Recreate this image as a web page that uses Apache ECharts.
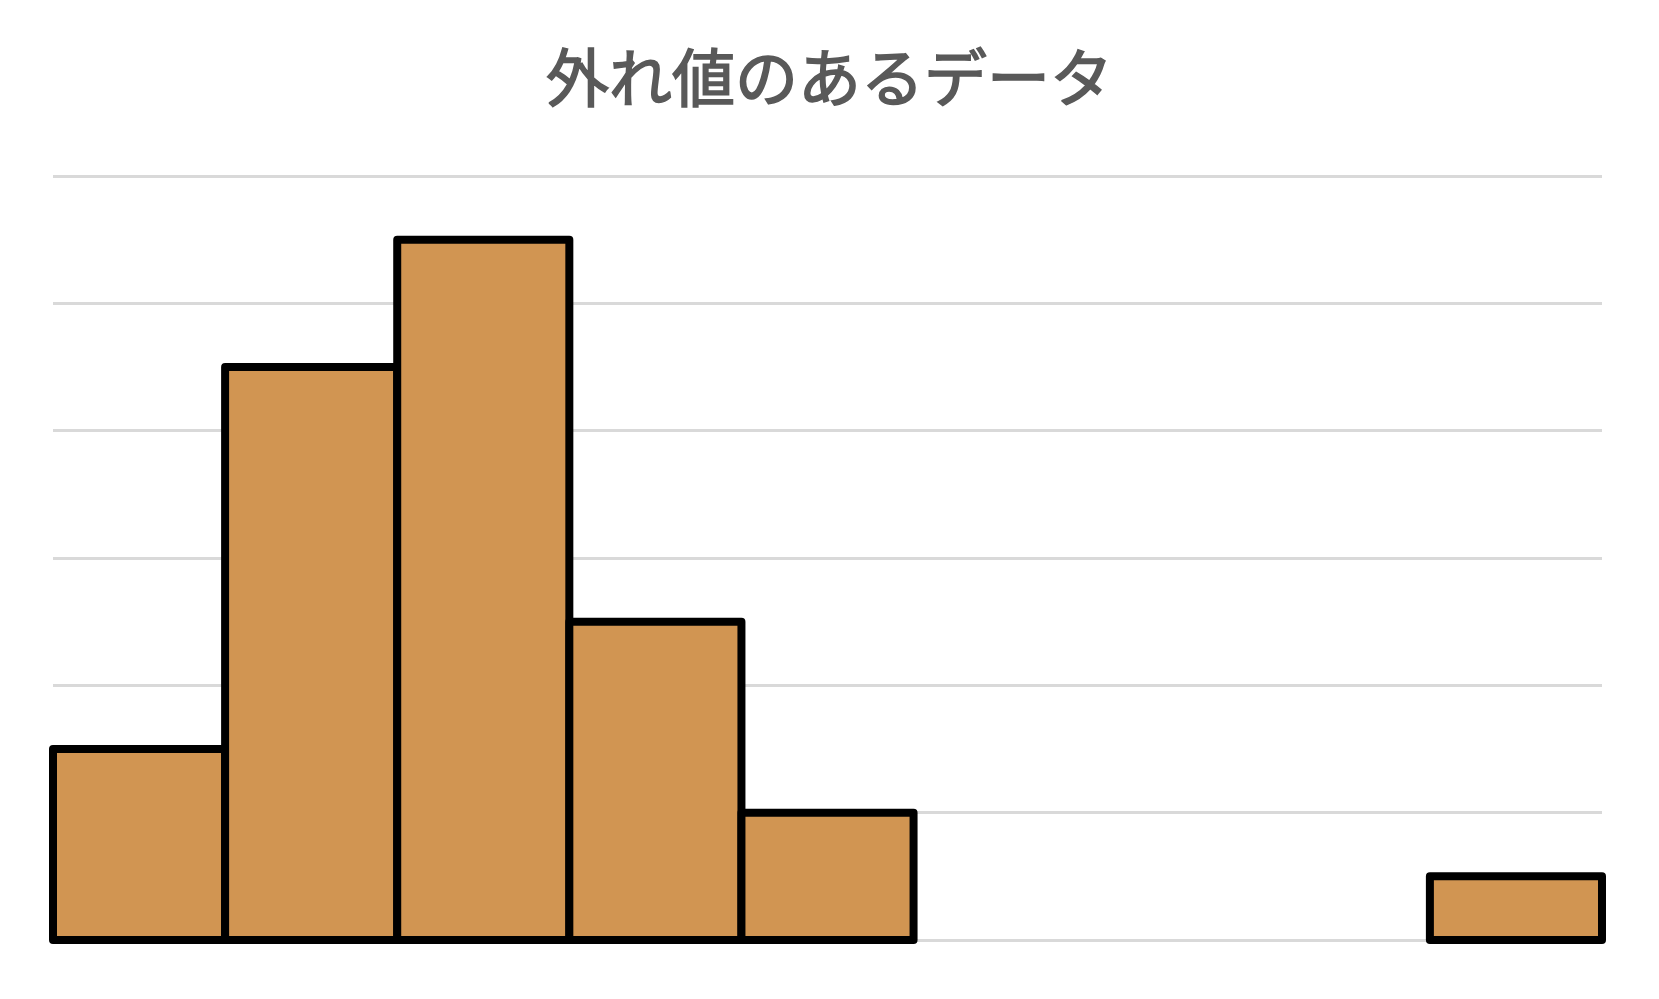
<!DOCTYPE html>
<html>
<head>
<meta charset="utf-8">
<script src="https://cdn.jsdelivr.net/npm/echarts@6/dist/echarts.min.js"></script>
<style>
  html, body { margin: 0; padding: 0; background: #fff; }
  #chart { width: 1659px; height: 999px; }
</style>
</head>
<body>
<div id="chart"></div>
<script>
// histogram bins (counts)
const bins = ['b1', 'b2', 'b3', 'b4', 'b5', 'b6', 'b7', 'b8', 'b9'];
const counts = [3, 9, 11, 5, 2, 0, 0, 0, 1];

const chart = echarts.init(document.getElementById('chart'));

// full-width rectangles, outline centred on the bin edges like Excel histograms
function renderBin(params, api) {
  const v = api.value(1);
  if (!v) return null;
  const top = api.coord([api.value(0), v]);
  const base = api.coord([api.value(0), 0]);
  const bw = api.size([1, 0])[0];
  return {
    type: 'rect',
    shape: { x: top[0] - bw / 2, y: top[1], width: bw, height: base[1] - top[1] },
    style: {
      fill: '#d19552',
      stroke: '#000000',
      lineWidth: 8,
      lineJoin: 'round'
    }
  };
}

chart.setOption({
  backgroundColor: '#ffffff',
  animation: false,
  title: {
    text: '外れ値のあるデータ',
    left: 'center',
    top: 41,
    textStyle: {
      fontFamily: 'Noto Sans CJK JP',
      fontSize: 63,
      fontWeight: 'normal',
      color: '#595959',
      // slight outline to get a medium weight
      textBorderColor: '#595959',
      textBorderWidth: 1.6
    }
  },
  grid: { left: 53, right: 57, top: 176, bottom: 59 },
  xAxis: {
    type: 'category',
    data: bins,
    axisLine: { show: false },
    axisTick: { show: false },
    axisLabel: { show: false }
  },
  yAxis: {
    type: 'value',
    min: 0,
    max: 12,
    interval: 2,
    axisLine: { show: false },
    axisTick: { show: false },
    axisLabel: { show: false },
    splitLine: { lineStyle: { color: '#d9d9d9', width: 3 } }
  },
  series: [{
    type: 'custom',
    renderItem: renderBin,
    encode: { x: 0, y: 1 },
    data: counts.map((v, i) => [i, v])
  }]
});
</script>
</body>
</html>
